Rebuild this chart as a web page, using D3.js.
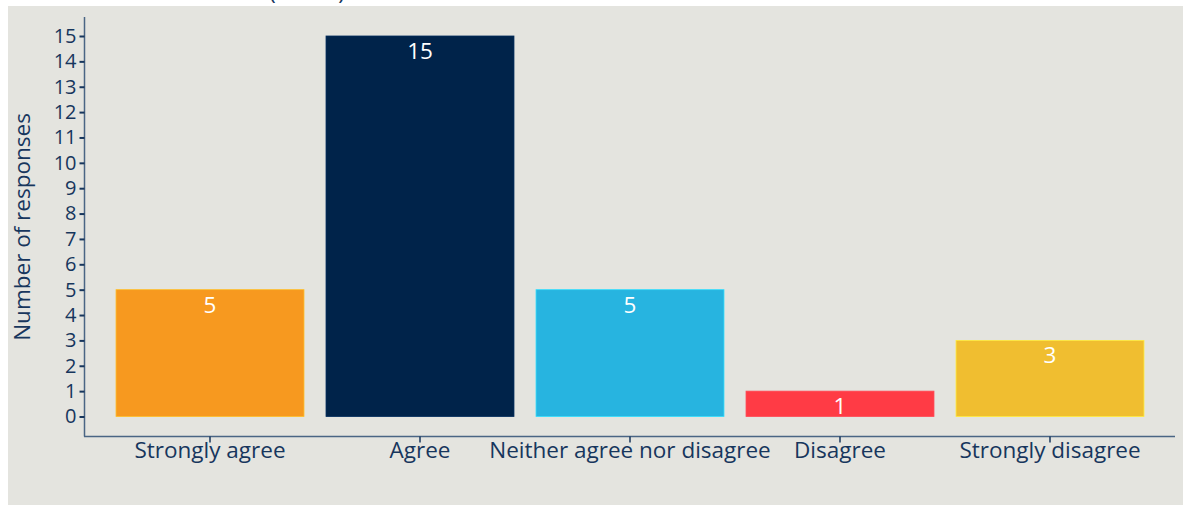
<!DOCTYPE html>
<html>
<head>
<meta charset="utf-8">
<script src="https://cdn.jsdelivr.net/npm/d3@7"></script>
<style>
  html, body { margin: 0; padding: 0; background: #fff; }
  svg { display: block; }
</style>
</head>
<body>
<div id="chart"></div>
<script>
// survey answers, one bar each
const categories = ["Strongly agree", "Agree", "Neither agree nor disagree", "Disagree", "Strongly disagree"];
const responses = [5, 15, 5, 1, 3];
const barColors = ["#F7991F", "#00234A", "#27B4E0", "#FF3B45", "#F0BE30"];
const yTicks = d3.range(0, 16);

const width = 1183, height = 505;
const font = "'Open Sans', 'Noto Sans', sans-serif";
const fs = 22.5;
const ink = "#17365d";
const axisInk = "#4a6584";

const svg = d3.select("#chart").append("svg")
  .attr("width", width).attr("height", height)
  .style("font-family", font);

// grey panel
svg.append("rect")
  .attr("x", 8).attr("y", 6)
  .attr("width", width - 8).attr("height", height - 6)
  .attr("fill", "#E4E4DF");

// title sits above, mostly cut off in the reference too
svg.append("text")
  .attr("x", 307).attr("y", 0)
  .attr("text-anchor", "middle")
  .attr("font-size", 22).attr("fill", ink)
  .text("(n = 29)");

const x = d3.scaleBand()
  .domain(categories)
  .range([105, 1155])
  .paddingInner(0.105)
  .paddingOuter(0.0525);

const y = d3.scaleLinear()
  .domain([0, 15])
  .range([416.5, 36]);

// axis lines drawn by hand, longer than the scale range
svg.append("line")
  .attr("x1", 84.5).attr("x2", 84.5)
  .attr("y1", 17).attr("y2", 436.5)
  .attr("stroke", axisInk).attr("stroke-width", 1.5);
svg.append("line")
  .attr("x1", 84).attr("x2", 1175)
  .attr("y1", 436.5).attr("y2", 436.5)
  .attr("stroke", axisInk).attr("stroke-width", 1.5);

const yAxis = svg.append("g")
  .attr("transform", "translate(84.5,0)")
  .call(d3.axisLeft(y).tickValues(yTicks).tickSize(5).tickSizeOuter(0).tickPadding(3));
yAxis.select(".domain").remove();
yAxis.selectAll(".tick line").attr("stroke", ink).attr("stroke-width", 2);
yAxis.selectAll(".tick text")
  .attr("fill", ink).attr("font-size", 20).attr("font-family", font);

const xAxis = svg.append("g")
  .attr("transform", "translate(0,436.5)")
  .call(d3.axisBottom(x).tickSize(6).tickSizeOuter(0).tickPadding(0));
xAxis.select(".domain").remove();
xAxis.selectAll(".tick line").attr("stroke", ink).attr("stroke-width", 1.5);
xAxis.selectAll(".tick text")
  .attr("fill", ink).attr("font-size", fs).attr("font-family", font);

svg.append("text")
  .attr("transform", "translate(30,227) rotate(-90)")
  .attr("text-anchor", "middle")
  .attr("font-size", fs).attr("fill", ink)
  .text("Number of responses");

// bars
svg.append("g").selectAll("rect")
  .data(categories)
  .join("rect")
  .attr("x", d => x(d))
  .attr("y", (d, i) => y(responses[i]))
  .attr("width", x.bandwidth())
  .attr("height", (d, i) => y(0) - y(responses[i]))
  .attr("fill", (d, i) => barColors[i])
  .attr("stroke", (d, i) => d3.color(barColors[i]).brighter(0.6))
  .attr("stroke-width", 0.8);

// value labels inside the top of each bar
svg.append("g").selectAll("text")
  .data(categories)
  .join("text")
  .attr("x", d => x(d) + x.bandwidth() / 2)
  .attr("y", (d, i) => y(responses[i]) + 23)
  .attr("text-anchor", "middle")
  .attr("font-size", fs).attr("fill", "#fff")
  .text((d, i) => responses[i]);
</script>
</body>
</html>
